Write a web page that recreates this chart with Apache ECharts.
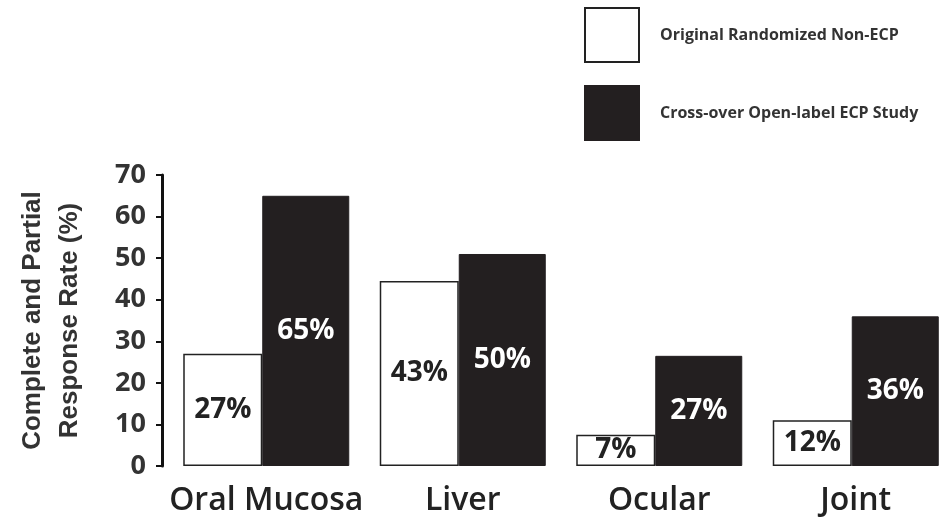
<!DOCTYPE html>
<html><head><meta charset="utf-8">
<script src="https://cdn.jsdelivr.net/npm/echarts@6/dist/echarts.min.js"></script>
<style>html,body{margin:0;padding:0;background:#fff}#c{width:939px;height:519px}</style>
</head><body><div id="c"></div>
<script>
const categories = ['Oral Mucosa', 'Liver', 'Ocular', 'Joint'];
const seriesNames = ['Original Randomized Non-ECP', 'Cross-over Open-label ECP Study'];
const originalValues = [27, 44.5, 7.5, 11];
const crossoverValues = [65, 51, 26.5, 36];
const originalLabels = ['27%', '43%', '7%', '12%'];
const crossoverLabels = ['65%', '50%', '27%', '36%'];
const yTicks = [0, 10, 20, 30, 40, 50, 60, 70];

const FONT = '"Open Sans", "DejaVu Sans", sans-serif';
const ARIAL = '"Liberation Sans", Arial, sans-serif';
const chart = echarts.init(document.getElementById('c'));
chart.setOption({
  animation: false,
  backgroundColor: '#fff',
  grid: { left: 168, width: 786, top: 175, bottom: 53, containLabel: false, outerBoundsMode: 'none' },
  legend: {
    orient: 'vertical', left: 584, top: 7, padding: 0,
    itemWidth: 54, itemHeight: 54, itemGap: 22,
    icon: 'rect',
    textStyle: { fontFamily: FONT, fontSize: 16, fontWeight: 'bold', color: '#333', padding: [12, 0, 0, 16] },
    data: seriesNames
  },
  xAxis: {
    type: 'category', data: categories,
    axisLine: { show: false }, axisTick: { show: false },
    axisLabel: { interval: 0, fontFamily: FONT, fontSize: 32, fontWeight: 600, color: '#222', margin: 19 }
  },
  yAxis: {
    type: 'value', min: yTicks[0], max: yTicks[yTicks.length - 1], interval: 10,
    offset: 6,
    name: 'Complete and Partial\nResponse Rate (%)',
    nameLocation: 'middle', nameRotate: 90, nameGap: 74,
    nameTextStyle: { fontFamily: ARIAL, fontSize: 26, fontWeight: 'bold', color: '#333', lineHeight: 37, padding: [0, 0, 0, 0] },
    splitLine: { show: false },
    axisLine: { show: true, lineStyle: { color: '#111', width: 3 } },
    axisTick: { show: true, inside: false, length: 6, lineStyle: { color: '#111', width: 2 } },
    axisLabel: { fontFamily: FONT, fontSize: 27, fontWeight: 'bold', color: '#333', margin: 16 }
  },
  series: [
    {
      name: seriesNames[0], type: 'bar', data: originalValues,
      barWidth: 79, barGap: '0%',
      itemStyle: { color: '#fff', borderColor: '#222', borderWidth: 1.5 },
      label: { show: true, position: 'inside', fontFamily: FONT, fontSize: 28, fontWeight: 'bold', color: '#222',
        formatter: p => originalLabels[p.dataIndex] }
    },
    {
      name: seriesNames[1], type: 'bar', data: crossoverValues,
      barWidth: 87,
      itemStyle: { color: '#231f20', borderColor: '#231f20', borderWidth: 1 },
      label: { show: true, position: 'inside', fontFamily: FONT, fontSize: 28, fontWeight: 'bold', color: '#fff',
        formatter: p => crossoverLabels[p.dataIndex] }
    }
  ]
});
</script></body></html>
